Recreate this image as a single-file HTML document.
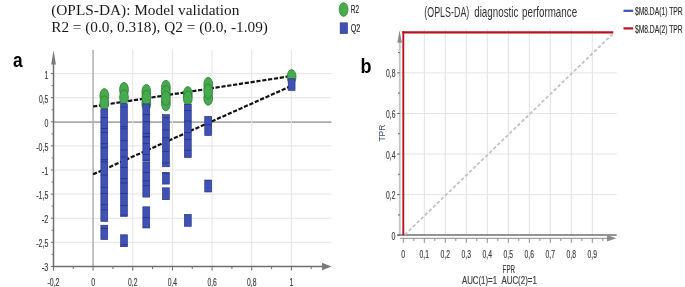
<!DOCTYPE html>
<html><head><meta charset="utf-8"><style>
html,body{margin:0;padding:0;background:#fff;}
svg{display:block;filter:blur(0.35px);}
.ttl{font-family:"Liberation Serif",serif;font-size:15px;fill:#1a1a1a;}
.ax{font-family:"Liberation Sans",sans-serif;font-size:11.3px;fill:#3d3d3d;stroke:#3d3d3d;stroke-width:0.2px;}
.lg{font-family:"Liberation Sans",sans-serif;font-size:10px;fill:#2c2c2c;stroke:#2c2c2c;stroke-width:0.15px;}
.bt{font-family:"Liberation Sans",sans-serif;font-size:14.5px;fill:#333;}
.tpr{font-family:"Liberation Sans",sans-serif;font-size:8.6px;fill:#3c4c74;}
.pl{font-family:"Liberation Sans",sans-serif;font-size:19.5px;font-weight:bold;fill:#000;}
</style></head><body>
<svg width="685" height="287" viewBox="0 0 685 287">
<rect width="685" height="287" fill="#fff"/>
<line x1="53.5" y1="242.30" x2="331.5" y2="242.30" stroke="#e4e4e4" stroke-width="1.0"/>
<line x1="53.5" y1="218.20" x2="331.5" y2="218.20" stroke="#e4e4e4" stroke-width="1.0"/>
<line x1="53.5" y1="194.10" x2="331.5" y2="194.10" stroke="#e4e4e4" stroke-width="1.0"/>
<line x1="53.5" y1="170.00" x2="331.5" y2="170.00" stroke="#e4e4e4" stroke-width="1.0"/>
<line x1="53.5" y1="145.90" x2="331.5" y2="145.90" stroke="#e4e4e4" stroke-width="1.0"/>
<line x1="53.5" y1="122.10" x2="331.5" y2="122.10" stroke="#ababab" stroke-width="1.8"/>
<line x1="53.5" y1="97.70" x2="331.5" y2="97.70" stroke="#e4e4e4" stroke-width="1.0"/>
<line x1="53.5" y1="73.60" x2="331.5" y2="73.60" stroke="#e4e4e4" stroke-width="1.0"/>
<line x1="93.10" y1="50.0" x2="93.10" y2="266.6" stroke="#b0b0b0" stroke-width="1.5"/>
<line x1="132.76" y1="50.0" x2="132.76" y2="266.6" stroke="#e4e4e4" stroke-width="1.0"/>
<line x1="172.42" y1="50.0" x2="172.42" y2="266.6" stroke="#e4e4e4" stroke-width="1.0"/>
<line x1="212.08" y1="50.0" x2="212.08" y2="266.6" stroke="#e4e4e4" stroke-width="1.0"/>
<line x1="251.74" y1="50.0" x2="251.74" y2="266.6" stroke="#e4e4e4" stroke-width="1.0"/>
<line x1="291.40" y1="50.0" x2="291.40" y2="266.6" stroke="#e4e4e4" stroke-width="1.0"/>
<line x1="53.5" y1="62" x2="53.5" y2="267.40000000000003" stroke="#6e6e6e" stroke-width="1.5"/>
<polygon points="51.2,64.5 55.9,64.5 53.55,50" fill="#7a7a7a"/>
<line x1="52.8" y1="266.6" x2="324" y2="266.6" stroke="#6e6e6e" stroke-width="1.5"/>
<polygon points="322,262.8 322,270.2 331.5,266.6" fill="#7a7a7a"/>
<line x1="50.90" y1="266.40" x2="53.5" y2="266.40" stroke="#6e6e6e" stroke-width="1"/>
<line x1="51.70" y1="254.35" x2="53.5" y2="254.35" stroke="#6e6e6e" stroke-width="1"/>
<line x1="50.90" y1="242.30" x2="53.5" y2="242.30" stroke="#6e6e6e" stroke-width="1"/>
<line x1="51.70" y1="230.25" x2="53.5" y2="230.25" stroke="#6e6e6e" stroke-width="1"/>
<line x1="50.90" y1="218.20" x2="53.5" y2="218.20" stroke="#6e6e6e" stroke-width="1"/>
<line x1="51.70" y1="206.15" x2="53.5" y2="206.15" stroke="#6e6e6e" stroke-width="1"/>
<line x1="50.90" y1="194.10" x2="53.5" y2="194.10" stroke="#6e6e6e" stroke-width="1"/>
<line x1="51.70" y1="182.05" x2="53.5" y2="182.05" stroke="#6e6e6e" stroke-width="1"/>
<line x1="50.90" y1="170.00" x2="53.5" y2="170.00" stroke="#6e6e6e" stroke-width="1"/>
<line x1="51.70" y1="157.95" x2="53.5" y2="157.95" stroke="#6e6e6e" stroke-width="1"/>
<line x1="50.90" y1="145.90" x2="53.5" y2="145.90" stroke="#6e6e6e" stroke-width="1"/>
<line x1="51.70" y1="133.85" x2="53.5" y2="133.85" stroke="#6e6e6e" stroke-width="1"/>
<line x1="50.90" y1="121.80" x2="53.5" y2="121.80" stroke="#6e6e6e" stroke-width="1"/>
<line x1="51.70" y1="109.75" x2="53.5" y2="109.75" stroke="#6e6e6e" stroke-width="1"/>
<line x1="50.90" y1="97.70" x2="53.5" y2="97.70" stroke="#6e6e6e" stroke-width="1"/>
<line x1="51.70" y1="85.65" x2="53.5" y2="85.65" stroke="#6e6e6e" stroke-width="1"/>
<line x1="50.90" y1="73.60" x2="53.5" y2="73.60" stroke="#6e6e6e" stroke-width="1"/>
<line x1="53.44" y1="266.6" x2="53.44" y2="270.6" stroke="#6e6e6e" stroke-width="1"/>
<line x1="73.27" y1="266.6" x2="73.27" y2="269.1" stroke="#6e6e6e" stroke-width="1"/>
<line x1="93.10" y1="266.6" x2="93.10" y2="270.6" stroke="#6e6e6e" stroke-width="1"/>
<line x1="112.93" y1="266.6" x2="112.93" y2="269.1" stroke="#6e6e6e" stroke-width="1"/>
<line x1="132.76" y1="266.6" x2="132.76" y2="270.6" stroke="#6e6e6e" stroke-width="1"/>
<line x1="152.59" y1="266.6" x2="152.59" y2="269.1" stroke="#6e6e6e" stroke-width="1"/>
<line x1="172.42" y1="266.6" x2="172.42" y2="270.6" stroke="#6e6e6e" stroke-width="1"/>
<line x1="192.25" y1="266.6" x2="192.25" y2="269.1" stroke="#6e6e6e" stroke-width="1"/>
<line x1="212.08" y1="266.6" x2="212.08" y2="270.6" stroke="#6e6e6e" stroke-width="1"/>
<line x1="231.91" y1="266.6" x2="231.91" y2="269.1" stroke="#6e6e6e" stroke-width="1"/>
<line x1="251.74" y1="266.6" x2="251.74" y2="270.6" stroke="#6e6e6e" stroke-width="1"/>
<line x1="271.57" y1="266.6" x2="271.57" y2="269.1" stroke="#6e6e6e" stroke-width="1"/>
<line x1="291.40" y1="266.6" x2="291.40" y2="270.6" stroke="#6e6e6e" stroke-width="1"/>
<line x1="311.23" y1="266.6" x2="311.23" y2="269.1" stroke="#6e6e6e" stroke-width="1"/>
<text x="44.40" y="78.50" textLength="3.90" lengthAdjust="spacingAndGlyphs" class="ax">1</text>
<text x="38.90" y="102.60" textLength="9.40" lengthAdjust="spacingAndGlyphs" class="ax">0,5</text>
<text x="44.40" y="126.70" textLength="3.90" lengthAdjust="spacingAndGlyphs" class="ax">0</text>
<text x="36.30" y="150.80" textLength="12.00" lengthAdjust="spacingAndGlyphs" class="ax">-0,5</text>
<text x="41.80" y="174.90" textLength="6.50" lengthAdjust="spacingAndGlyphs" class="ax">-1</text>
<text x="36.30" y="199.00" textLength="12.00" lengthAdjust="spacingAndGlyphs" class="ax">-1,5</text>
<text x="41.80" y="223.10" textLength="6.50" lengthAdjust="spacingAndGlyphs" class="ax">-2</text>
<text x="36.30" y="247.20" textLength="12.00" lengthAdjust="spacingAndGlyphs" class="ax">-2,5</text>
<text x="41.80" y="271.30" textLength="6.50" lengthAdjust="spacingAndGlyphs" class="ax">-3</text>
<text x="47.44" y="286.30" textLength="12.00" lengthAdjust="spacingAndGlyphs" class="ax">-0,2</text>
<text x="91.15" y="286.30" textLength="3.90" lengthAdjust="spacingAndGlyphs" class="ax">0</text>
<text x="128.06" y="286.30" textLength="9.40" lengthAdjust="spacingAndGlyphs" class="ax">0,2</text>
<text x="167.72" y="286.30" textLength="9.40" lengthAdjust="spacingAndGlyphs" class="ax">0,4</text>
<text x="207.38" y="286.30" textLength="9.40" lengthAdjust="spacingAndGlyphs" class="ax">0,6</text>
<text x="247.04" y="286.30" textLength="9.40" lengthAdjust="spacingAndGlyphs" class="ax">0,8</text>
<text x="289.45" y="286.30" textLength="3.90" lengthAdjust="spacingAndGlyphs" class="ax">1</text>
<line x1="93.10" y1="106.47" x2="291.6" y2="76.0" stroke="#111" stroke-width="2.2" stroke-dasharray="4.2,1.7"/>
<line x1="93.10" y1="174.34" x2="291.6" y2="85.8" stroke="#111" stroke-width="2.2" stroke-dasharray="4.2,1.7"/>
<ellipse cx="104.30" cy="95.90" rx="4.4" ry="7.3" fill="#48aa4e" stroke="#2b7f33" stroke-width="0.8"/>
<ellipse cx="104.30" cy="103.20" rx="4.4" ry="7.3" fill="#48aa4e" stroke="#2b7f33" stroke-width="0.8"/>
<ellipse cx="124.00" cy="89.70" rx="4.4" ry="7.3" fill="#48aa4e" stroke="#2b7f33" stroke-width="0.8"/>
<ellipse cx="124.00" cy="97.20" rx="4.4" ry="7.3" fill="#48aa4e" stroke="#2b7f33" stroke-width="0.8"/>
<ellipse cx="146.30" cy="91.70" rx="4.4" ry="7.3" fill="#48aa4e" stroke="#2b7f33" stroke-width="0.8"/>
<ellipse cx="146.30" cy="103.70" rx="4.4" ry="7.3" fill="#48aa4e" stroke="#2b7f33" stroke-width="0.8"/>
<ellipse cx="146.30" cy="97.70" rx="4.4" ry="7.3" fill="#48aa4e" stroke="#2b7f33" stroke-width="0.8"/>
<ellipse cx="165.90" cy="87.60" rx="4.4" ry="7.3" fill="#48aa4e" stroke="#2b7f33" stroke-width="0.8"/>
<ellipse cx="165.90" cy="103.50" rx="4.4" ry="7.3" fill="#48aa4e" stroke="#2b7f33" stroke-width="0.8"/>
<ellipse cx="165.90" cy="92.90" rx="4.4" ry="7.3" fill="#48aa4e" stroke="#2b7f33" stroke-width="0.8"/>
<ellipse cx="165.90" cy="98.20" rx="4.4" ry="7.3" fill="#48aa4e" stroke="#2b7f33" stroke-width="0.8"/>
<ellipse cx="187.80" cy="93.90" rx="4.4" ry="7.3" fill="#48aa4e" stroke="#2b7f33" stroke-width="0.8"/>
<ellipse cx="187.80" cy="98.20" rx="4.4" ry="7.3" fill="#48aa4e" stroke="#2b7f33" stroke-width="0.8"/>
<ellipse cx="208.20" cy="84.60" rx="4.4" ry="7.3" fill="#48aa4e" stroke="#2b7f33" stroke-width="0.8"/>
<ellipse cx="208.20" cy="98.00" rx="4.4" ry="7.3" fill="#48aa4e" stroke="#2b7f33" stroke-width="0.8"/>
<ellipse cx="208.20" cy="91.30" rx="4.4" ry="7.3" fill="#48aa4e" stroke="#2b7f33" stroke-width="0.8"/>
<ellipse cx="291.60" cy="76.80" rx="4.4" ry="7.3" fill="#48aa4e" stroke="#2b7f33" stroke-width="0.8"/>
<rect x="100.85" y="108.90" width="6.9" height="112.50" fill="#3f51b5" stroke="#1f2d7a" stroke-width="0.6"/>
<rect x="100.85" y="225.20" width="6.9" height="14.40" fill="#3f51b5" stroke="#1f2d7a" stroke-width="0.6"/>
<line x1="100.85" y1="117.5" x2="107.75" y2="117.5" stroke="#1f2d7a" stroke-width="0.9" opacity="0.75"/>
<line x1="100.85" y1="128.5" x2="107.75" y2="128.5" stroke="#1f2d7a" stroke-width="0.9" opacity="0.75"/>
<line x1="100.85" y1="132.5" x2="107.75" y2="132.5" stroke="#1f2d7a" stroke-width="0.9" opacity="0.75"/>
<line x1="100.85" y1="143.6" x2="107.75" y2="143.6" stroke="#1f2d7a" stroke-width="0.9" opacity="0.75"/>
<line x1="100.85" y1="147.6" x2="107.75" y2="147.6" stroke="#1f2d7a" stroke-width="0.9" opacity="0.75"/>
<line x1="100.85" y1="159.6" x2="107.75" y2="159.6" stroke="#1f2d7a" stroke-width="0.9" opacity="0.75"/>
<line x1="100.85" y1="161.8" x2="107.75" y2="161.8" stroke="#1f2d7a" stroke-width="0.9" opacity="0.75"/>
<line x1="100.85" y1="175.2" x2="107.75" y2="175.2" stroke="#1f2d7a" stroke-width="0.9" opacity="0.75"/>
<line x1="100.85" y1="187.4" x2="107.75" y2="187.4" stroke="#1f2d7a" stroke-width="0.9" opacity="0.75"/>
<line x1="100.85" y1="193.5" x2="107.75" y2="193.5" stroke="#1f2d7a" stroke-width="0.9" opacity="0.75"/>
<line x1="100.85" y1="204.6" x2="107.75" y2="204.6" stroke="#1f2d7a" stroke-width="0.9" opacity="0.75"/>
<line x1="100.85" y1="209.9" x2="107.75" y2="209.9" stroke="#1f2d7a" stroke-width="0.9" opacity="0.75"/>
<line x1="100.85" y1="228.5" x2="107.75" y2="228.5" stroke="#1f2d7a" stroke-width="0.9" opacity="0.75"/>
<rect x="120.55" y="103.70" width="6.9" height="112.70" fill="#3f51b5" stroke="#1f2d7a" stroke-width="0.6"/>
<rect x="120.55" y="234.80" width="6.9" height="11.90" fill="#3f51b5" stroke="#1f2d7a" stroke-width="0.6"/>
<line x1="120.55" y1="107" x2="127.45" y2="107" stroke="#1f2d7a" stroke-width="0.9" opacity="0.75"/>
<line x1="120.55" y1="126.7" x2="127.45" y2="126.7" stroke="#1f2d7a" stroke-width="0.9" opacity="0.75"/>
<line x1="120.55" y1="128.8" x2="127.45" y2="128.8" stroke="#1f2d7a" stroke-width="0.9" opacity="0.75"/>
<line x1="120.55" y1="140.7" x2="127.45" y2="140.7" stroke="#1f2d7a" stroke-width="0.9" opacity="0.75"/>
<line x1="120.55" y1="149.9" x2="127.45" y2="149.9" stroke="#1f2d7a" stroke-width="0.9" opacity="0.75"/>
<line x1="120.55" y1="157" x2="127.45" y2="157" stroke="#1f2d7a" stroke-width="0.9" opacity="0.75"/>
<line x1="120.55" y1="167.4" x2="127.45" y2="167.4" stroke="#1f2d7a" stroke-width="0.9" opacity="0.75"/>
<line x1="120.55" y1="178.7" x2="127.45" y2="178.7" stroke="#1f2d7a" stroke-width="0.9" opacity="0.75"/>
<line x1="120.55" y1="183" x2="127.45" y2="183" stroke="#1f2d7a" stroke-width="0.9" opacity="0.75"/>
<line x1="120.55" y1="193.5" x2="127.45" y2="193.5" stroke="#1f2d7a" stroke-width="0.9" opacity="0.75"/>
<line x1="120.55" y1="205.5" x2="127.45" y2="205.5" stroke="#1f2d7a" stroke-width="0.9" opacity="0.75"/>
<line x1="120.55" y1="215" x2="127.45" y2="215" stroke="#1f2d7a" stroke-width="0.9" opacity="0.75"/>
<line x1="120.55" y1="245" x2="127.45" y2="245" stroke="#1f2d7a" stroke-width="0.9" opacity="0.75"/>
<rect x="142.85" y="103.90" width="6.9" height="18.40" fill="#3f51b5" stroke="#1f2d7a" stroke-width="0.6"/>
<rect x="142.85" y="123.20" width="6.9" height="38.00" fill="#3f51b5" stroke="#1f2d7a" stroke-width="0.6"/>
<rect x="142.85" y="162.20" width="6.9" height="34.90" fill="#3f51b5" stroke="#1f2d7a" stroke-width="0.6"/>
<rect x="142.85" y="206.80" width="6.9" height="21.20" fill="#3f51b5" stroke="#1f2d7a" stroke-width="0.6"/>
<line x1="142.85" y1="114.6" x2="149.75" y2="114.6" stroke="#1f2d7a" stroke-width="0.9" opacity="0.75"/>
<line x1="142.85" y1="121.6" x2="149.75" y2="121.6" stroke="#1f2d7a" stroke-width="0.9" opacity="0.75"/>
<line x1="142.85" y1="133.4" x2="149.75" y2="133.4" stroke="#1f2d7a" stroke-width="0.9" opacity="0.75"/>
<line x1="142.85" y1="136.5" x2="149.75" y2="136.5" stroke="#1f2d7a" stroke-width="0.9" opacity="0.75"/>
<line x1="142.85" y1="137.1" x2="149.75" y2="137.1" stroke="#1f2d7a" stroke-width="0.9" opacity="0.75"/>
<line x1="142.85" y1="143.6" x2="149.75" y2="143.6" stroke="#1f2d7a" stroke-width="0.9" opacity="0.75"/>
<line x1="142.85" y1="154.5" x2="149.75" y2="154.5" stroke="#1f2d7a" stroke-width="0.9" opacity="0.75"/>
<line x1="142.85" y1="160.1" x2="149.75" y2="160.1" stroke="#1f2d7a" stroke-width="0.9" opacity="0.75"/>
<line x1="142.85" y1="172.6" x2="149.75" y2="172.6" stroke="#1f2d7a" stroke-width="0.9" opacity="0.75"/>
<line x1="142.85" y1="180.8" x2="149.75" y2="180.8" stroke="#1f2d7a" stroke-width="0.9" opacity="0.75"/>
<line x1="142.85" y1="185.6" x2="149.75" y2="185.6" stroke="#1f2d7a" stroke-width="0.9" opacity="0.75"/>
<line x1="142.85" y1="217.6" x2="149.75" y2="217.6" stroke="#1f2d7a" stroke-width="0.9" opacity="0.75"/>
<rect x="162.45" y="114.60" width="6.9" height="52.20" fill="#3f51b5" stroke="#1f2d7a" stroke-width="0.6"/>
<rect x="162.45" y="172.40" width="6.9" height="11.70" fill="#3f51b5" stroke="#1f2d7a" stroke-width="0.6"/>
<rect x="162.45" y="187.80" width="6.9" height="11.90" fill="#3f51b5" stroke="#1f2d7a" stroke-width="0.6"/>
<line x1="162.45" y1="117.8" x2="169.35" y2="117.8" stroke="#1f2d7a" stroke-width="0.9" opacity="0.75"/>
<line x1="162.45" y1="130" x2="169.35" y2="130" stroke="#1f2d7a" stroke-width="0.9" opacity="0.75"/>
<line x1="162.45" y1="137.8" x2="169.35" y2="137.8" stroke="#1f2d7a" stroke-width="0.9" opacity="0.75"/>
<line x1="162.45" y1="151.4" x2="169.35" y2="151.4" stroke="#1f2d7a" stroke-width="0.9" opacity="0.75"/>
<line x1="162.45" y1="162.9" x2="169.35" y2="162.9" stroke="#1f2d7a" stroke-width="0.9" opacity="0.75"/>
<line x1="162.45" y1="173.3" x2="169.35" y2="173.3" stroke="#1f2d7a" stroke-width="0.9" opacity="0.75"/>
<rect x="184.35" y="104.20" width="6.9" height="53.40" fill="#3f51b5" stroke="#1f2d7a" stroke-width="0.6"/>
<rect x="184.35" y="214.40" width="6.9" height="11.90" fill="#3f51b5" stroke="#1f2d7a" stroke-width="0.6"/>
<line x1="184.35" y1="110.5" x2="191.25" y2="110.5" stroke="#1f2d7a" stroke-width="0.9" opacity="0.75"/>
<line x1="184.35" y1="121" x2="191.25" y2="121" stroke="#1f2d7a" stroke-width="0.9" opacity="0.75"/>
<line x1="184.35" y1="132.5" x2="191.25" y2="132.5" stroke="#1f2d7a" stroke-width="0.9" opacity="0.75"/>
<line x1="184.35" y1="139.4" x2="191.25" y2="139.4" stroke="#1f2d7a" stroke-width="0.9" opacity="0.75"/>
<line x1="184.35" y1="150.3" x2="191.25" y2="150.3" stroke="#1f2d7a" stroke-width="0.9" opacity="0.75"/>
<rect x="204.75" y="116.30" width="6.9" height="19.30" fill="#3f51b5" stroke="#1f2d7a" stroke-width="0.6"/>
<rect x="204.75" y="180.00" width="6.9" height="12.00" fill="#3f51b5" stroke="#1f2d7a" stroke-width="0.6"/>
<line x1="204.75" y1="124.7" x2="211.65" y2="124.7" stroke="#1f2d7a" stroke-width="0.9" opacity="0.75"/>
<rect x="288.15" y="78.80" width="6.9" height="11.60" fill="#3f51b5" stroke="#1f2d7a" stroke-width="0.6"/>
<ellipse cx="343.6" cy="9.5" rx="4.5" ry="6.9" fill="#48aa4e" stroke="#2b7f33" stroke-width="0.6"/>
<rect x="340.1" y="22.8" width="7.5" height="10.9" fill="#3f51b5" stroke="#1f2d7a" stroke-width="0.5"/>
<text x="350.7" y="13.2" textLength="8.4" lengthAdjust="spacingAndGlyphs" class="lg" style="fill:#222">R2</text>
<text x="350.7" y="31.9" textLength="9.6" lengthAdjust="spacingAndGlyphs" class="lg" style="fill:#222">Q2</text>
<text x="51.2" y="15.4" textLength="188.2" lengthAdjust="spacingAndGlyphs" class="ttl">(OPLS-DA): Model validation</text>
<text x="51.2" y="32.2" textLength="216.7" lengthAdjust="spacingAndGlyphs" class="ttl">R2 = (0.0, 0.318), Q2 = (0.0, -1.09)</text>
<text x="13.0" y="67.0" class="pl" style="font-size:21px" textLength="9.6" lengthAdjust="spacingAndGlyphs">a</text>
<line x1="424.30" y1="28.8" x2="424.30" y2="235.2" stroke="#e2e2e2" stroke-width="1"/>
<line x1="445.30" y1="28.8" x2="445.30" y2="235.2" stroke="#e2e2e2" stroke-width="1"/>
<line x1="466.30" y1="28.8" x2="466.30" y2="235.2" stroke="#e2e2e2" stroke-width="1"/>
<line x1="487.30" y1="28.8" x2="487.30" y2="235.2" stroke="#e2e2e2" stroke-width="1"/>
<line x1="508.30" y1="28.8" x2="508.30" y2="235.2" stroke="#e2e2e2" stroke-width="1"/>
<line x1="529.30" y1="28.8" x2="529.30" y2="235.2" stroke="#e2e2e2" stroke-width="1"/>
<line x1="550.30" y1="28.8" x2="550.30" y2="235.2" stroke="#e2e2e2" stroke-width="1"/>
<line x1="571.30" y1="28.8" x2="571.30" y2="235.2" stroke="#e2e2e2" stroke-width="1"/>
<line x1="592.30" y1="28.8" x2="592.30" y2="235.2" stroke="#e2e2e2" stroke-width="1"/>
<line x1="399.8" y1="194.62" x2="616.8" y2="194.62" stroke="#e4e4e4" stroke-width="1"/>
<line x1="399.8" y1="154.04" x2="616.8" y2="154.04" stroke="#e4e4e4" stroke-width="1"/>
<line x1="399.8" y1="113.46" x2="616.8" y2="113.46" stroke="#e4e4e4" stroke-width="1"/>
<line x1="399.8" y1="72.88" x2="616.8" y2="72.88" stroke="#e4e4e4" stroke-width="1"/>
<line x1="399.8" y1="42" x2="399.8" y2="235.2" stroke="#c4c4c4" stroke-width="1.8"/>
<polygon points="397.3,42.8 401.9,42.8 399.6,30.2" fill="#8a8a8a"/>
<line x1="397.20" y1="235.20" x2="399.8" y2="235.20" stroke="#5a5a5a" stroke-width="1"/>
<line x1="398.00" y1="214.91" x2="399.8" y2="214.91" stroke="#5a5a5a" stroke-width="1"/>
<line x1="397.20" y1="194.62" x2="399.8" y2="194.62" stroke="#5a5a5a" stroke-width="1"/>
<line x1="398.00" y1="174.33" x2="399.8" y2="174.33" stroke="#5a5a5a" stroke-width="1"/>
<line x1="397.20" y1="154.04" x2="399.8" y2="154.04" stroke="#5a5a5a" stroke-width="1"/>
<line x1="398.00" y1="133.75" x2="399.8" y2="133.75" stroke="#5a5a5a" stroke-width="1"/>
<line x1="397.20" y1="113.46" x2="399.8" y2="113.46" stroke="#5a5a5a" stroke-width="1"/>
<line x1="398.00" y1="93.17" x2="399.8" y2="93.17" stroke="#5a5a5a" stroke-width="1"/>
<line x1="397.20" y1="72.88" x2="399.8" y2="72.88" stroke="#5a5a5a" stroke-width="1"/>
<line x1="398.00" y1="52.59" x2="399.8" y2="52.59" stroke="#5a5a5a" stroke-width="1"/>
<line x1="397.2" y1="235.0" x2="616.7" y2="235.0" stroke="#707070" stroke-width="1.5"/>
<line x1="400.2" y1="238.29999999999998" x2="609" y2="238.29999999999998" stroke="#a2a2a2" stroke-width="1.3"/>
<polygon points="607,234.9 607,241.5 616.3,238.2" fill="#8a8a8a"/>
<line x1="403.30" y1="238.2" x2="403.30" y2="242.89999999999998" stroke="#8c8c8c" stroke-width="1"/>
<line x1="413.80" y1="238.2" x2="413.80" y2="241.0" stroke="#8c8c8c" stroke-width="1"/>
<line x1="424.30" y1="238.2" x2="424.30" y2="242.89999999999998" stroke="#8c8c8c" stroke-width="1"/>
<line x1="434.80" y1="238.2" x2="434.80" y2="241.0" stroke="#8c8c8c" stroke-width="1"/>
<line x1="445.30" y1="238.2" x2="445.30" y2="242.89999999999998" stroke="#8c8c8c" stroke-width="1"/>
<line x1="455.80" y1="238.2" x2="455.80" y2="241.0" stroke="#8c8c8c" stroke-width="1"/>
<line x1="466.30" y1="238.2" x2="466.30" y2="242.89999999999998" stroke="#8c8c8c" stroke-width="1"/>
<line x1="476.80" y1="238.2" x2="476.80" y2="241.0" stroke="#8c8c8c" stroke-width="1"/>
<line x1="487.30" y1="238.2" x2="487.30" y2="242.89999999999998" stroke="#8c8c8c" stroke-width="1"/>
<line x1="497.80" y1="238.2" x2="497.80" y2="241.0" stroke="#8c8c8c" stroke-width="1"/>
<line x1="508.30" y1="238.2" x2="508.30" y2="242.89999999999998" stroke="#8c8c8c" stroke-width="1"/>
<line x1="518.80" y1="238.2" x2="518.80" y2="241.0" stroke="#8c8c8c" stroke-width="1"/>
<line x1="529.30" y1="238.2" x2="529.30" y2="242.89999999999998" stroke="#8c8c8c" stroke-width="1"/>
<line x1="539.80" y1="238.2" x2="539.80" y2="241.0" stroke="#8c8c8c" stroke-width="1"/>
<line x1="550.30" y1="238.2" x2="550.30" y2="242.89999999999998" stroke="#8c8c8c" stroke-width="1"/>
<line x1="560.80" y1="238.2" x2="560.80" y2="241.0" stroke="#8c8c8c" stroke-width="1"/>
<line x1="571.30" y1="238.2" x2="571.30" y2="242.89999999999998" stroke="#8c8c8c" stroke-width="1"/>
<line x1="581.80" y1="238.2" x2="581.80" y2="241.0" stroke="#8c8c8c" stroke-width="1"/>
<line x1="592.30" y1="238.2" x2="592.30" y2="242.89999999999998" stroke="#8c8c8c" stroke-width="1"/>
<line x1="602.80" y1="238.2" x2="602.80" y2="241.0" stroke="#8c8c8c" stroke-width="1"/>
<text x="386.00" y="77.48" textLength="9.40" lengthAdjust="spacingAndGlyphs" class="ax">0,8</text>
<text x="386.00" y="118.06" textLength="9.40" lengthAdjust="spacingAndGlyphs" class="ax">0,6</text>
<text x="386.00" y="158.64" textLength="9.40" lengthAdjust="spacingAndGlyphs" class="ax">0,4</text>
<text x="386.00" y="199.22" textLength="9.40" lengthAdjust="spacingAndGlyphs" class="ax">0,2</text>
<text x="391.50" y="239.80" textLength="3.90" lengthAdjust="spacingAndGlyphs" class="ax">0</text>
<text x="401.35" y="257.8" textLength="3.90" lengthAdjust="spacingAndGlyphs" class="ax">0</text>
<text x="419.60" y="257.8" textLength="9.40" lengthAdjust="spacingAndGlyphs" class="ax">0,1</text>
<text x="440.60" y="257.8" textLength="9.40" lengthAdjust="spacingAndGlyphs" class="ax">0,2</text>
<text x="461.60" y="257.8" textLength="9.40" lengthAdjust="spacingAndGlyphs" class="ax">0,3</text>
<text x="482.60" y="257.8" textLength="9.40" lengthAdjust="spacingAndGlyphs" class="ax">0,4</text>
<text x="503.60" y="257.8" textLength="9.40" lengthAdjust="spacingAndGlyphs" class="ax">0,5</text>
<text x="524.60" y="257.8" textLength="9.40" lengthAdjust="spacingAndGlyphs" class="ax">0,6</text>
<text x="545.60" y="257.8" textLength="9.40" lengthAdjust="spacingAndGlyphs" class="ax">0,7</text>
<text x="566.60" y="257.8" textLength="9.40" lengthAdjust="spacingAndGlyphs" class="ax">0,8</text>
<text x="587.60" y="257.8" textLength="9.40" lengthAdjust="spacingAndGlyphs" class="ax">0,9</text>
<line x1="404.80" y1="234.70" x2="613.30" y2="33.30" stroke="#c2c2c2" stroke-width="1.8" stroke-dasharray="3.4,2.2"/>
<line x1="403.30" y1="235.2" x2="403.30" y2="31.20" stroke="#b8141f" stroke-width="1.9"/>
<line x1="402.35" y1="32.30" x2="613.30" y2="32.30" stroke="#b8141f" stroke-width="2.3"/>
<text x="424.3" y="17.1" textLength="45.0" lengthAdjust="spacingAndGlyphs" class="bt">(OPLS-DA)</text>
<text x="474.2" y="17.1" textLength="44.2" lengthAdjust="spacingAndGlyphs" class="bt">diagnostic</text>
<text x="522.0" y="17.1" textLength="55.2" lengthAdjust="spacingAndGlyphs" class="bt">performance</text>
<line x1="623.5" y1="10.8" x2="633.2" y2="10.8" stroke="#3f51b5" stroke-width="2.2"/>
<line x1="623.5" y1="28.4" x2="633.2" y2="28.4" stroke="#b8141f" stroke-width="2.2"/>
<text x="634.9" y="15.1" textLength="47.8" lengthAdjust="spacingAndGlyphs" class="lg">$M8.DA(1) TPR</text>
<text x="634.9" y="32.8" textLength="47.8" lengthAdjust="spacingAndGlyphs" class="lg">$M8.DA(2) TPR</text>
<text x="502.6" y="272.7" textLength="12.4" lengthAdjust="spacingAndGlyphs" class="ax">FPR</text>
<text x="461.9" y="283.8" textLength="35.2" lengthAdjust="spacingAndGlyphs" class="ax">AUC(1)=1</text>
<text x="501.4" y="283.8" textLength="35.4" lengthAdjust="spacingAndGlyphs" class="ax">AUC(2)=1</text>
<text transform="translate(385.2,141.6) rotate(-90)" x="0" y="0" textLength="16.8" lengthAdjust="spacingAndGlyphs" class="tpr">TPR</text>
<text x="360.6" y="72.7" class="pl" style="font-size:19.3px" textLength="11.0" lengthAdjust="spacingAndGlyphs">b</text>
</svg>
</body></html>
